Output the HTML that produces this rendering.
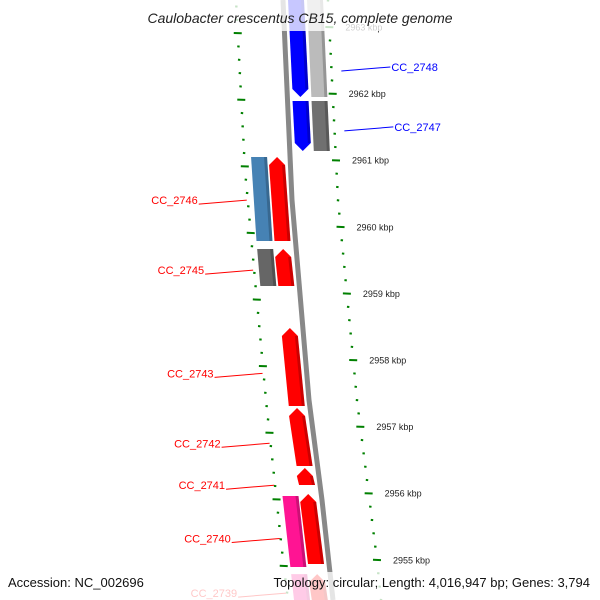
<!DOCTYPE html>
<html><head><meta charset="utf-8"><style>
body{margin:0;background:#fff;}
svg{display:block;font-family:"Liberation Sans",sans-serif;}
</style></head><body>
<svg id="map" width="600" height="600" viewBox="0 0 600 600" xmlns="http://www.w3.org/2000/svg">
<g id="rulers"></g>
<g id="backbone"></g>
<g id="genes"></g>
<g id="labels"></g>
<rect x="0" y="0" width="600" height="31" fill="#fff" opacity="0.78"/>
<text x="300" y="23" text-anchor="middle" font-size="14" font-style="italic" fill="#222">Caulobacter crescentus CB15, complete genome</text>
<rect x="0" y="572" width="600" height="28" fill="#fff" opacity="0.78"/>
<text x="8" y="587" font-size="13" fill="#111">Accession: NC_002696</text>
<text x="590" y="587" text-anchor="end" font-size="13" fill="#111">Topology: circular; Length: 4,016,947 bp; Genes: 3,794</text>
</svg>
<script>
// kbp axis
const tickKbp = [2963, 2962, 2961, 2960, 2959, 2958, 2957, 2956, 2955];
const tickLabels = ["2963 kbp","2962 kbp","2961 kbp","2960 kbp","2959 kbp","2958 kbp","2957 kbp","2956 kbp","2955 kbp"];
// genes: start/end in kbp
const geneStart = [2963.45, 2963.45, 2961.904, 2961.904, 2961.063, 2961.063, 2959.682, 2959.682, 2958.495, 2957.294, 2956.393, 2956.003, 2955.973, 2954.80, 2954.80];
const geneEnd   = [2961.934, 2961.934, 2961.123, 2961.123, 2959.772, 2959.772, 2959.096, 2959.096, 2957.294, 2956.393, 2956.108, 2954.922, 2954.877, 2954.30, 2954.30];
const geneTrack = [1, 2, 1, 2, -2, -1, -2, -1, -1, -1, -1, -1, -2, -1, -2];
const geneColor = ["#0000ff","#bbbbbb","#0000ff","#707070","#4682b4","#ff0000","#666666","#ff0000","#ff0000","#ff0000","#ff0000","#ff0000","#ff1493","#ff0000","#ff1493"];
const geneArrow = ["down","none","down","none","none","up","none","up","up","up","up","up","none","up","none"];
const labelNames = ["CC_2748","CC_2747","CC_2746","CC_2745","CC_2743","CC_2742","CC_2741","CC_2740","CC_2739"];
const labelKbp = [2962.4, 2961.5, 2960.4, 2959.35, 2957.8, 2956.75, 2956.12, 2955.32, 2954.5];
const labelSide = [1, 1, -1, -1, -1, -1, -1, -1, -1];
const labelColor = ["#0000ff","#0000ff","#ff0000","#ff0000","#ff0000","#ff0000","#ff0000","#ff0000","#ff0000"];

const NS="http://www.w3.org/2000/svg";
function yOf(k){return 27+(2963-k)*66.6;}
function interp(pts,y){for(let i=0;i<pts.length-1;i++){if(y<=pts[i+1][0]||i==pts.length-2){const t=(y-pts[i][0])/(pts[i+1][0]-pts[i][0]);return pts[i][1]+t*(pts[i+1][1]-pts[i][1]);}}}
const bb=[[0,283],[200,292],[400,309],[500,322],[600,333]];
const rr=[[0,328],[200,338],[400,357],[560,377],[600,381]];
const lr=[[0,236],[170,245],[400,266],[560,283],[600,288]];
function bx(y){return interp(bb,y);}
function mk(tag,attrs,parent){const e=document.createElementNS(NS,tag);for(const k in attrs)e.setAttribute(k,attrs[k]);parent.appendChild(e);return e;}

// backbone
const bg=document.getElementById('backbone');
let d="";for(let y=0;y<=600;y+=10){d+=(y?"L":"M")+bx(y)+","+y;}
let bl=mk('path',{d:d,stroke:"#888",'stroke-width':5,fill:"none"},bg);



// rulers
const rg=document.getElementById('rulers');
for(let k=2963.6;k>=2954.2;k-=0.2){
  const kk=Math.round(k*10)/10;
  const y=yOf(kk);
  const major=Math.abs(kk-Math.round(kk))<0.01;
  const xr=interp(rr,y);
  let t=mk('line',{x1:xr-(major?4:1.2),x2:xr+(major?4:1.2),y1:y,y2:y+0.3,stroke:"#008000",'stroke-width':2},rg);
  
  
  const yl=y+6;const xl=interp(lr,yl);
  let t2=mk('line',{x1:xl-(major?4:1.2),x2:xl+(major?4:1.2),y1:yl,y2:yl+0.3,stroke:"#008000",'stroke-width':2},rg);
  
  
}
tickKbp.forEach((k,i)=>{
  const y=yOf(k);
  let tx=mk('text',{x:interp(rr,y)+16,y:y+3.5,'font-size':9,fill:"#222"},rg);
  tx.textContent=tickLabels[i];
  
  
});

// genes
const gg=document.getElementById('genes');
geneStart.forEach((s,i)=>{
  const y1=yOf(s)+1,y2=yOf(geneEnd[i])-1;
  const off=geneTrack[i]>0?(geneTrack[i]==1?13:32):(geneTrack[i]==-1?-13:-31);
  const w=8;
  const c1=bx(y1)+off,c2=bx(y2)+off;
  let pts;
  const ah=Math.min(8,(y2-y1)/2);
  if(geneArrow[i]=="down"){
    pts=[[c1-w,y1],[c1+w,y1],[c2+w,y2-ah],[c2,y2],[c2-w,y2-ah]];
  }else if(geneArrow[i]=="up"){
    pts=[[c1,y1],[c1+w,y1+ah],[c2+w,y2],[c2-w,y2],[c1-w,y1+ah]];
  }else{
    pts=[[c1-w,y1],[c1+w,y1],[c2+w,y2],[c2-w,y2]];
  }
  let p=mk('polygon',{points:pts.map(q=>q.join(",")).join(" "),fill:geneColor[i]},gg);
  
  
  let sh=mk('polygon',{points:[[c1+w-3,y1+(geneArrow[i]=="up"?ah:0)],[c1+w,y1+(geneArrow[i]=="up"?ah:0)],[c2+w,y2-(geneArrow[i]=="down"?ah:0)],[c2+w-3,y2-(geneArrow[i]=="down"?ah:0)]].map(q=>q.join(",")).join(" "),fill:"#000",opacity:0.2},gg);
  
  
});

// labels
const lg=document.getElementById('labels');
labelNames.forEach((n,i)=>{
  const y=yOf(labelKbp[i]);
  if(labelSide[i]>0){
    const x0=interp(rr,y)+10;
    let l=mk('line',{x1:x0,y1:y+4,x2:x0+49,y2:y,stroke:labelColor[i],'stroke-width':1},lg);
    
    
    let t=mk('text',{x:x0+50,y:y+4,'font-size':11,fill:labelColor[i]},lg);
    t.textContent=n;
    
    
  }else{
    const x0=interp(lr,y)-1;
    let l=mk('line',{x1:x0-48,y1:y+4,x2:x0,y2:y,stroke:labelColor[i],'stroke-width':1},lg);
    
    
    let t=mk('text',{x:x0-49,y:y+4,'font-size':11,fill:labelColor[i],'text-anchor':'end'},lg);
    t.textContent=n;
    
    
  }
});
</script>
</body></html>
